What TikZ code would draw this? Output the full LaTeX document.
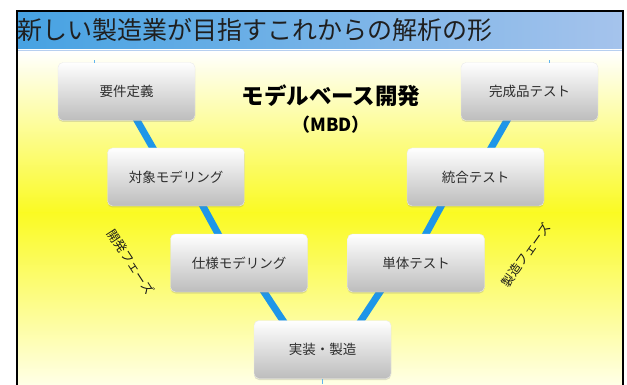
\documentclass[tikz,border=0pt]{standalone}
\usepackage{fontspec}
\newfontfamily\jp{Noto Sans CJK JP}
\usetikzlibrary{shadows,calc}
\pgfdeclarelayer{bgl}
\pgfdeclarelayer{lines}
\pgfsetlayers{bgl,lines,main}
\definecolor{barL}{RGB}{70,162,226}
\definecolor{barR}{RGB}{165,195,236}
\definecolor{vblue}{RGB}{30,150,232}
\definecolor{ylw}{RGB}{250,250,35}
\definecolor{paley}{RGB}{255,255,232}
\definecolor{boxtxt}{RGB}{45,45,45}
\tikzset{
  phase/.style={rounded corners=5pt, minimum width=137pt, minimum height=58pt,
    inner sep=0pt, top color=white, bottom color=black!26, draw=black!8,
    drop shadow={opacity=0.25, shadow xshift=0pt, shadow yshift=-1.5pt},
    font=\jp\fontsize{13.5}{16}\selectfont, text=boxtxt},
  vline/.style={draw=vblue, line width=7pt},
  tick/.style={draw=vblue!70, line width=1pt},
  sidelbl/.style={font=\jp\fontsize{12.5}{15}\selectfont, text=black!90, inner sep=0pt},
}
\begin{document}
\begin{tikzpicture}[x=1pt,y=-1pt]
\useasboundingbox (0,0) rectangle (627,385);
% nodes
\node[phase] (yk) at (126.5,91.5) {要件定義};
\node[phase] (tz) at (176,177) {対象モデリング};
\node[phase] (sy) at (239,263) {仕様モデリング};
\node[phase] (jm) at (322.5,349.5) {実装・製造};
\node[phase] (tt) at (416,263) {単体テスト};
\node[phase] (tg) at (475.5,177) {統合テスト};
\node[phase] (kh) at (529.5,91.5) {完成品テスト};
% background
\begin{pgfonlayer}{bgl}
  \fill[white] (0,0) rectangle (627,385);
  \shade[top color=white, bottom color=ylw] (18,51) rectangle (622,213);
  \shade[top color=ylw, bottom color=paley] (18,212.5) rectangle (622,386);
  \shade[left color=barL, right color=barR] (18,12) rectangle (622,48.5);
  \draw[barR!80, line width=1pt] (18,50.3) -- (622,50.3);
  \draw[black, line width=2pt] (17,386) -- (17,11) -- (623,11) -- (623,386);
\end{pgfonlayer}
% V lines
\begin{pgfonlayer}{lines}
  \draw[vline] ([xshift=-6pt]yk.center) -- ([xshift=-6.5pt]tz.center);
  \draw[vline] ([xshift=11pt]tz.center) -- ([xshift=-5pt]sy.center);
  \draw[vline] ([xshift=6pt]sy.center) -- ([xshift=-20.5pt]jm.center);
  \draw[vline] ([xshift=19.5pt]jm.center) -- ([xshift=-17pt]tt.center);
  \draw[vline] ([xshift=-6pt]tt.center) -- ([xshift=-18.5pt]tg.center);
  \draw[vline] ([xshift=-1pt]tg.center) -- ([xshift=-6pt]kh.center);
\end{pgfonlayer}
% small ticks
\coordinate (t1a) at (94,60.5); \coordinate (t1b) at (94,63);
\coordinate (t2a) at (549,60.5); \coordinate (t2b) at (549,63);
\coordinate (t3a) at (322,379); \coordinate (t3b) at (322,384);
\draw[tick] (t1a) -- (t1b);
\draw[tick] (t2a) -- (t2b);
\draw[tick] (t3a) -- (t3b);
% titles
\node[anchor=west, inner sep=0pt, text=black!88, font=\jp\fontsize{25}{28}\selectfont] (ttl) at (17,30) {新しい製造業が目指すこれからの解析の形};
\node[inner sep=0pt, font=\jp\bfseries\fontsize{22.5}{24}\selectfont] (mbd1) at (331,96) {モデルベース開発};
\node[inner sep=0pt, font=\jp\bfseries\fontsize{18}{20}\selectfont] (mbd2) at (331,125) {（MBD）};
% side labels
\node[sidelbl, rotate=-57] (lp) at (131,262) {開発フェーズ};
\node[sidelbl, rotate=55] (rp) at (526,255) {製造フェーズ};
\end{tikzpicture}
\end{document}
